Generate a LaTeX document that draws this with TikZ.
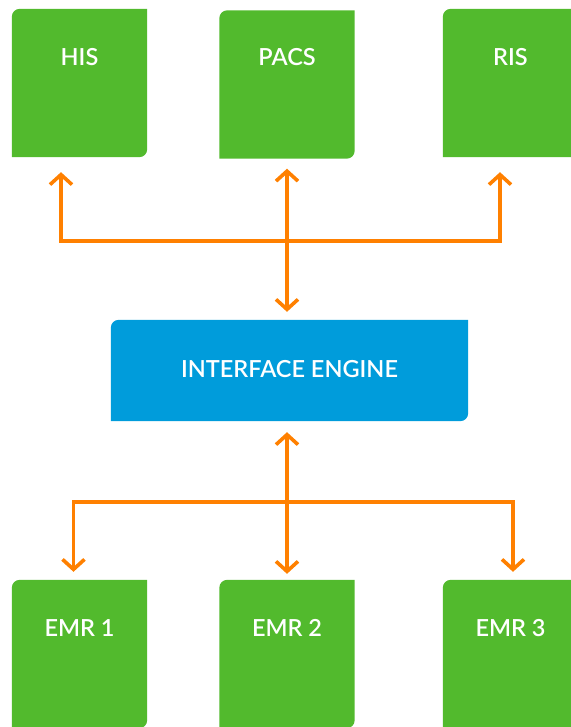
\documentclass[tikz,border=0pt]{standalone}
\usepackage{fontspec}
\setmainfont{Lato}[BoldFont={Lato Semibold}]
\usetikzlibrary{arrows.meta}
\definecolor{boxgreen}{RGB}{82,186,45}
\definecolor{engblue}{RGB}{0,156,219}
\definecolor{arrorange}{RGB}{255,128,0}
\tikzset{
  box/.style={minimum width=135pt, minimum height=148pt, inner sep=0pt},
  engbox/.style={minimum width=357pt, minimum height=101pt, inner sep=0pt},
  lbl/.style={text=white, font=\bfseries\fontsize{23.5}{27}\selectfont},
  conn/.style={draw=arrorange, line width=3.6pt},
  tip/.style={-{Straight Barb[length=10pt,width=22pt,line width=3.6pt]}},
}
\newcommand{\shapebox}[2]{%
  \fill[#2] (#1.south west) -- ([yshift=-8pt]#1.north west)
    arc[start angle=180,end angle=90,radius=8pt] -- (#1.north east)
    -- ([yshift=8pt]#1.south east)
    arc[start angle=0,end angle=-90,radius=8pt] -- cycle;}
\begin{document}
\begin{tikzpicture}[x=1pt,y=-1pt]
\useasboundingbox (0,0) rectangle (570,727);
% boxes
\node[box] (his)  at (79.5,83) {};
\node[box] (pacs) at (287,84.5) {};
\node[box] (ris)  at (510.5,83) {};
\node[engbox] (eng) at (289.5,370.5) {};
\node[box] (emr1) at (79.5,654) {};
\node[box] (emr2) at (287,654) {};
\node[box] (emr3) at (510.5,654) {};
\foreach \n in {his,pacs,ris,emr1,emr2,emr3} {\shapebox{\n}{boxgreen}}
\shapebox{eng}{engblue}
% labels
\node[lbl] (hist)  at ([yshift=26pt]his.center)  {HIS};
\node[lbl] (pacst) at ([yshift=27pt]pacs.center) {PACS};
\node[lbl] (rist)  at ([yshift=26pt]ris.center)  {RIS};
\node[lbl] (engt)  at ([yshift=1pt]eng.center)   {INTERFACE ENGINE};
\node[lbl] (emr1t) at ([yshift=26pt]emr1.center) {EMR 1};
\node[lbl] (emr2t) at ([yshift=26pt]emr2.center) {EMR 2};
\node[lbl] (emr3t) at ([yshift=26pt]emr3.center) {EMR 3};
% junction coordinates
\coordinate (topj) at (287,241);
\coordinate (botj) at (287,502);
% top connectors
\draw[conn,tip] (topj) -| ([xshift=-18.5pt,yshift=-15pt]his.south);
\draw[conn,tip] (topj) -| ([xshift=-10.5pt,yshift=-15pt]ris.south);
\draw[conn,tip] (topj) -- ([yshift=-10pt]pacs.south);
\draw[conn,tip] (topj) -- ([yshift=8pt]eng.north -| topj);
% bottom connectors
\draw[conn,tip] (botj) -- ([yshift=-11pt]eng.south -| botj);
\draw[conn,tip] (botj) -| ([xshift=-6pt,yshift=8pt]emr1.north);
\draw[conn,tip] (botj) -| ([xshift=2.5pt,yshift=8pt]emr3.north);
\draw[conn,tip] (botj) -- ([yshift=6pt]emr2.north);
\end{tikzpicture}
\end{document}
